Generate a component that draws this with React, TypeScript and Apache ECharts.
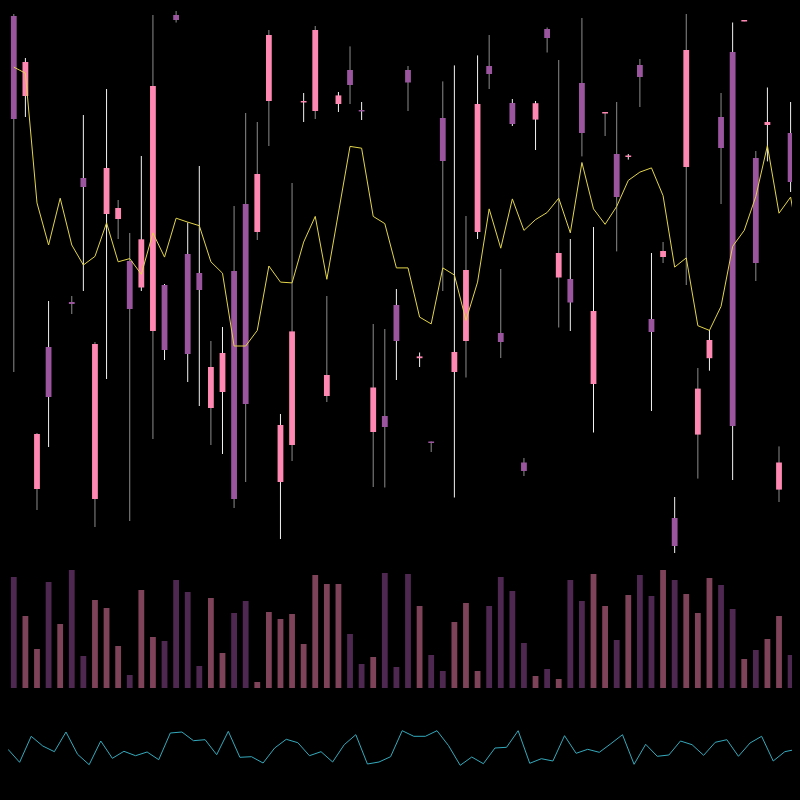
import React, { useEffect, useRef } from "react";
import * as echarts from "echarts";

const days: string[] = Array.from({ length: 69 }, (_, i) => `D${i + 1}`);

const opens = [584, 504, 111, 253, 600, 298, 422, 101, 386, 381, 339, 312.5, 269, 315, 585, 346, 327, 192, 208, 329, 396, 368, 499, 118, 155, 497.5, 489, 204, 496, 530, 490, 168, 184, 295, 530, 241.8, 158.5, 482, 228, 259, 368, 534, 267, 497, 137.5, 480.4, 571, 322.5, 321, 517, 216, 487, 446, 443, 535, 281, 343, 82, 433, 165.4, 241.8, 483, 548, 579, 442, 475, 110.4, 467, 182];
const closes = [481, 538, 166, 203, 612, 296, 413, 256, 432, 392, 291, 360.7, 514, 250, 580, 246, 310, 233, 247, 101, 196, 426, 565, 175, 268.6, 499, 570, 225, 504.6, 515, 489.5, 212.5, 173, 259, 517.5, 243.6, 157.5, 439, 248, 330, 496, 526, 258, 476, 129, 496.8, 562, 347, 297.5, 467, 289, 488, 403, 444.5, 523, 268, 349, 54, 550, 211.4, 260, 452, 174, 580, 337, 478, 137.5, 418, 205];
const lows = [228, 483, 90, 153, 596, 286, 309, 73, 221, 361, 79, 309, 161, 240, 577.5, 218, 194, 155, 146, 92, 118, 360, 454, 61, 139, 478, 481, 198, 488, 496, 480, 113, 112.5, 220, 489, 233, 148, 309, 102.5, 222.5, 361, 511, 242, 474, 124, 450, 547.5, 272.5, 269, 443.6, 167.5, 464, 348.6, 440.4, 493, 189, 337, 47, 315, 121.4, 229.3, 396, 120, 578.6, 319, 438.6, 98, 408, 170];
const highs = [586, 542, 167, 299, 618, 304, 485, 258, 511, 400, 367, 444, 585, 316, 589, 377.5, 434, 259, 273, 394, 487, 478, 570, 186, 417, 507, 574, 304, 508, 553.6, 498, 276, 271, 311, 534, 247.5, 158.5, 518.6, 534.6, 384, 544.6, 565, 331, 501, 142, 499, 572.5, 540, 361, 582, 373, 488, 498, 446, 541, 347, 358, 103, 586, 232, 270, 507, 577.5, 580, 449, 512.5, 153.6, 498, 215];
const brightWick = [0, 1, 0, 1, 0, 0, 1, 0, 1, 0, 0, 1, 0, 1, 0, 1, 1, 0, 1, 0, 0, 0, 0, 1, 0, 1, 0, 0, 1, 0, 1, 0, 0, 1, 0, 1, 0, 0, 1, 0, 1, 0, 0, 1, 0, 1, 0, 0, 1, 0, 1, 0, 0, 1, 0, 1, 0, 1, 0, 0, 1, 0, 1, 0, 0, 1, 0, 1, 0];

const movingLine = [532.9, 526.8, 397.1, 355, 401.8, 355, 335, 343.6, 377.1, 338.2, 341.4, 325.7, 367.1, 342.9, 381.8, 377.9, 374.3, 338.2, 326.8, 254, 254, 269.6, 334, 317.9, 317.1, 357.9, 383.6, 320.7, 387.1, 453.6, 451.8, 383.6, 376.4, 332.1, 332.1, 282.9, 276.1, 332.1, 325, 279.6, 317.9, 391.1, 351.8, 401.1, 369.6, 380.4, 387.5, 401.8, 367.1, 437.5, 391.1, 375.7, 393.6, 419.6, 427.9, 432.1, 404.3, 332.9, 342.1, 274.3, 269.6, 293.6, 353.6, 369.6, 403.6, 454.3, 386.8, 402.9, 338];

const volumes = [111, 72, 39, 106, 64, 118, 32, 88, 80, 42, 13, 98, 51, 47, 108, 96, 22, 90, 35, 75, 87, 6, 76, 69, 74, 44, 113, 104, 104, 54, 24, 31, 115, 21, 114, 82, 33, 17, 66, 85, 17, 82, 111, 97, 45, 12, 19, 9, 108, 87, 114, 82, 48, 93, 113, 92, 118, 108, 94, 75, 110, 103, 79, 29, 38, 49, 72, 33, 24];

const oscillator = [25.7, 12.7, 38.7, 29, 23.3, 43, 20.7, 10.3, 34, 16.7, 23.7, 19.3, 23, 15.3, 42, 43, 34.3, 35.3, 20.3, 43.7, 17.7, 18.3, 12, 27, 35.7, 32.3, 19.3, 23.3, 13, 30.3, 40.3, 11, 13, 18.3, 44.3, 38.7, 38.7, 44.3, 29.3, 9.7, 18, 11.3, 27, 27.7, 44.3, 11.7, 16.3, 14, 39.3, 21.7, 25.7, 22.7, 31.3, 40.3, 10.7, 30.7, 18.7, 20, 34, 30.3, 19.7, 32.7, 35.3, 18.7, 32, 38.7, 14, 23.3, 25.7];

const UP = "#ff88b2";
const DOWN = "#9b559f";
const UP_VOL = "#7e4259";
const DOWN_VOL = "#4e2850";

export default function App() {
  const ref = useRef<HTMLDivElement>(null);
  useEffect(() => {
    document.body.style.background = "#000";
    const chart = echarts.init(ref.current!, null, { renderer: "svg" });
    const candleData = days.map((_, i) => [i, opens[i], closes[i], lows[i], highs[i], brightWick[i]]);
    const option: any = {
      animation: false,
      backgroundColor: "#000",
      grid: [
        { left: 0, right: 0, top: 0, height: 550 },
        { left: 0, right: 0, top: 560, height: 120 },
        { left: 0, right: 0, top: 712, height: 55 },
      ],
      xAxis: [
        { type: "category", data: days, gridIndex: 0, boundaryGap: true, show: false },
        { type: "category", data: days, gridIndex: 1, boundaryGap: true, show: false },
        { type: "value", gridIndex: 2, min: 0, max: 69, show: false },
      ],
      yAxis: [
        { type: "value", gridIndex: 0, min: 42, max: 592, show: false, splitLine: { show: false } },
        { type: "value", gridIndex: 1, min: 0, max: 120, show: false, splitLine: { show: false } },
        { type: "value", gridIndex: 2, min: 0, max: 55, show: false, splitLine: { show: false } },
      ],
      series: [
        {
          type: "custom",
          xAxisIndex: 0,
          yAxisIndex: 0,
          clip: true,
          data: candleData,
          encode: { x: 0, y: [1, 2, 3, 4] },
          renderItem: (params: any, api: any) => {
            const xi = api.value(0);
            const o = api.value(1);
            const c = api.value(2);
            const l = api.value(3);
            const h = api.value(4);
            const bright = api.value(5);
            const pO = api.coord([xi, o]);
            const pC = api.coord([xi, c]);
            const pL = api.coord([xi, l]);
            const pH = api.coord([xi, h]);
            const bw = api.size([1, 0])[0] * 0.5;
            const up = c >= o;
            const top = Math.min(pO[1], pC[1]);
            const hgt = Math.max(Math.abs(pO[1] - pC[1]), 1.5);
            return {
              type: "group",
              children: [
                {
                  type: "line",
                  shape: { x1: pH[0], y1: pH[1], x2: pL[0], y2: pL[1] },
                  style: { stroke: bright ? "#f2f2f2" : "#8c8c8c", lineWidth: 1 },
                },
                {
                  type: "rect",
                  shape: { x: pO[0] - bw / 2, y: top, width: bw, height: hgt },
                  style: { fill: up ? UP : DOWN },
                },
              ],
            };
          },
          z: 2,
        },
        {
          type: "line",
          xAxisIndex: 0,
          yAxisIndex: 0,
          data: movingLine,
          symbol: "none",
          lineStyle: { color: "#e3d54b", width: 1 },
          z: 3,
        },
        {
          type: "bar",
          xAxisIndex: 1,
          yAxisIndex: 1,
          data: volumes,
          barWidth: "50%",
          itemStyle: {
            color: (p: any) => (closes[p.dataIndex] >= opens[p.dataIndex] ? UP_VOL : DOWN_VOL),
          },
        },
        {
          type: "line",
          xAxisIndex: 2,
          yAxisIndex: 2,
          data: oscillator.map((v, i) => [i, v]),
          symbol: "none",
          lineStyle: { color: "#34aabd", width: 1 },
        },
      ],
    };
    chart.setOption(option);
    return () => chart.dispose();
  }, []);
  return <div ref={ref} style={{ width: 800, height: 800 }} />;
}
